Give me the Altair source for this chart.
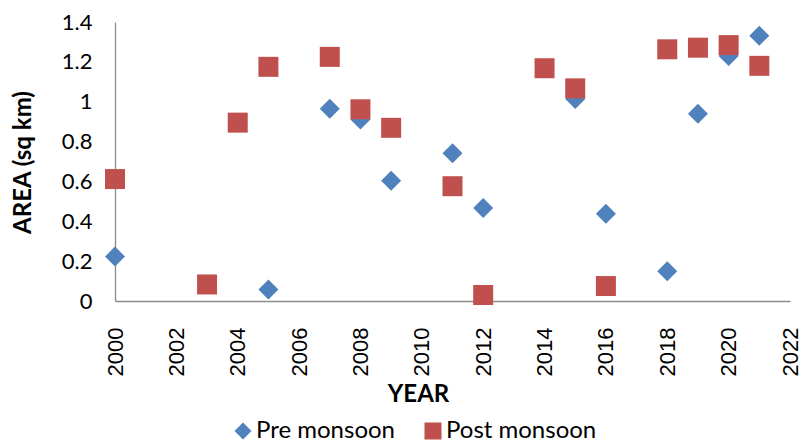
import altair as alt
import pandas as pd

years_pre = [2000, 2005, 2007, 2008, 2009, 2011, 2012, 2015, 2016, 2018, 2019, 2020, 2021]
area_pre = [0.223, 0.058, 0.965, 0.911, 0.604, 0.741, 0.467, 1.013, 0.438, 0.149, 0.940, 1.229, 1.331]

years_post = [2000, 2003, 2004, 2005, 2007, 2008, 2009, 2011, 2012, 2014, 2015, 2016, 2018, 2019, 2020, 2021]
area_post = [0.612, 0.083, 0.895, 1.175, 1.225, 0.962, 0.869, 0.576, 0.030, 1.168, 1.067, 0.075, 1.263, 1.271, 1.284, 1.180]

series = ["Pre monsoon", "Post monsoon"]
colors = ["#4F81BD", "#C0504D"]
shapes = ["diamond", "square"]

x_ticks = [2000, 2002, 2004, 2006, 2008, 2010, 2012, 2014, 2016, 2018, 2020, 2022]
y_ticks = [0, 0.2, 0.4, 0.6, 0.8, 1.0, 1.2, 1.4]

rows = [{"year": y, "area": a, "series": series[0]} for y, a in zip(years_pre, area_pre)]
rows += [{"year": y, "area": a, "series": series[1]} for y, a in zip(years_post, area_post)]
df = pd.DataFrame(rows)

FONT = "Lato"

chart = alt.Chart(df).mark_point(filled=True, opacity=1, size=400).encode(
    x=alt.X("year:Q",
            scale=alt.Scale(domain=[2000, 2022], nice=False, zero=False),
            axis=alt.Axis(title="YEAR", values=x_ticks, format="d", labelAngle=270,
                          labelFont="Liberation Sans", labelFontSize=22, labelPadding=26,
                          ticks=False, grid=False,
                          titleFontSize=24, titleFontWeight="bold", titleY=81,
                          titleX=303, titleAlign="center", titleBaseline="top")),
    y=alt.Y("area:Q",
            scale=alt.Scale(domain=[0, 1.4], nice=False),
            axis=alt.Axis(title="AREA (sq km)", values=y_ticks, format="~g",
                          labelFontSize=22, labelPadding=23, ticks=False, grid=False,
                          titleFontSize=24, titleFontWeight="bold",
                          titleX=-92, titleY=140, titleAlign="center",
                          titleBaseline="middle", titleAngle=270)),
    color=alt.Color("series:N", scale=alt.Scale(domain=series, range=colors),
                    legend=alt.Legend(title=None, orient="none", direction="horizontal",
                                      legendX=116, legendY=397, labelFontSize=24,
                                      symbolSize=290, labelOffset=1, columnPadding=26,
                                      padding=0)),
    shape=alt.Shape("series:N", scale=alt.Scale(domain=series, range=shapes)),
).properties(
    width=675, height=279,
    autosize=alt.AutoSizeParams(type="none"),
    padding={"left": 107, "top": 14, "right": 12, "bottom": 145},
).configure(font=FONT).configure_axis(
    domainColor="#8c8c8c", domainWidth=1.3, labelColor="#000000", titleColor="#000000",
    titleFont=FONT,
).configure_legend(
    labelFont=FONT, labelColor="#000000",
).configure_view(stroke=None)

chart.save("out.html", embed_options={"renderer": "svg", "actions": False})
